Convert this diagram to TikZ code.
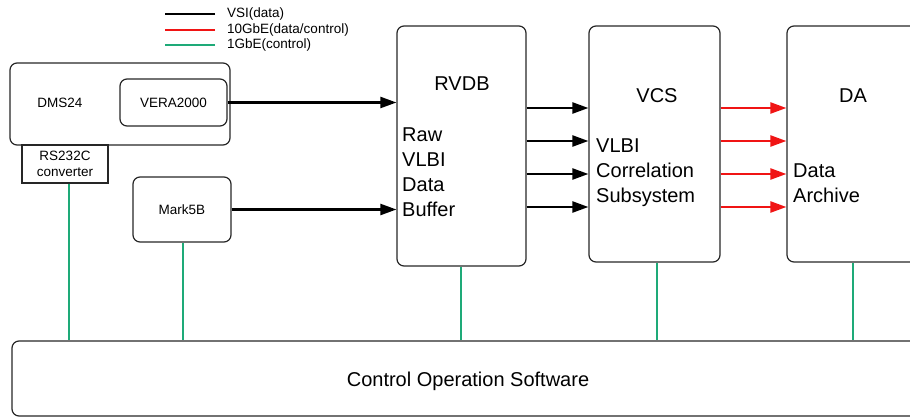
\documentclass[tikz,border=0pt]{standalone}
\usepackage{fontspec}
\setmainfont{Liberation Sans}
\usetikzlibrary{arrows.meta}
\definecolor{ctrlgreen}{RGB}{30,170,120}
\definecolor{tenred}{RGB}{240,20,20}
\begin{document}
\begin{tikzpicture}[x=1pt,y=-1pt,
  box/.style={draw=black!85,line width=1.2pt,rounded corners=7pt,inner sep=0pt},
  plainbox/.style={draw=black!85,line width=1.1pt,inner sep=0pt},
  big/.style={font=\fontsize{20}{25}\selectfont},
  small/.style={font=\fontsize{13.5}{16}\selectfont},
  txt/.style={inner sep=0pt},
  data/.style={line width=2.3pt,-{Triangle[length=16pt,width=11pt]}},
  tenge/.style={line width=2.3pt,color=tenred,-{Triangle[length=16pt,width=11pt]}},
  ctrl/.style={line width=1.3pt,color=ctrlgreen},
  legline/.style={line width=2.6pt}
]
\useasboundingbox (0,0) rectangle (910,417);
\clip (0,0) rectangle (910,417);

% legend
\node[txt,small,anchor=west] (l1) at (227,14) {VSI(data)};
\node[txt,small,anchor=west] (l2) at (227,30) {10GbE(data/control)};
\node[txt,small,anchor=west] (l3) at (227,45) {1GbE(control)};
\draw[legline,black] ([xshift=-12pt]l1.west) -- ++(-50,0);
\draw[legline,tenred] ([xshift=-12pt]l2.west) -- ++(-50,0);
\draw[legline,ctrlgreen] ([xshift=-12pt]l3.west) -- ++(-50,0);

% left side
\node[box,minimum width=220pt,minimum height=82pt] (dms) at (120,104) {};
\node[txt,small] (dmslabel) at (60,103) {DMS24};
\node[box,minimum width=107pt,minimum height=47pt,small] (vera) at (173.5,102.5) {VERA2000};
\node[plainbox,minimum width=86pt,minimum height=38pt,small,align=center] (rs) at (65,164) {RS232C\\converter};
\node[box,minimum width=98pt,minimum height=65pt,small] (mark) at (182,209.5) {Mark5B};

% main boxes
\node[box,minimum width=129pt,minimum height=240pt] (rvdb) at (461.5,146) {};
\node[box,minimum width=131pt,minimum height=236pt] (vcs) at (654.5,144) {};
\node[box,minimum width=132pt,minimum height=236pt] (da) at (853,144) {};
\node[box,minimum width=912pt,minimum height=75pt] (cos) at (468,378.5) {};
\node[txt,big] (cost) at (468,381) {Control Operation Software};

% titles and texts
\node[txt,big,anchor=base] (rvdbt) at (462,91) {RVDB};
\node[txt,big,anchor=north west,align=left] (rvdbb) at (402,127.7) {Raw\\VLBI\\Data\\Buffer};
\node[txt,big,anchor=base] (vcst) at (657,103) {VCS};
\node[txt,big,anchor=north west,align=left] (vcsb) at (596,138.7) {VLBI\\Correlation\\Subsystem};
\node[txt,big,anchor=base] (dat) at (853,103) {DA};
\node[txt,big,anchor=north west,align=left] (dab) at (793,163.7) {Data\\Archive};

% data arrows
\draw[data] (vera.east) -- (vera.east -| rvdb.west);
\draw[data] (mark.east) -- (mark.east -| rvdb.west);
\foreach \yy in {108,141,174,207}{
  \draw[data] (rvdb.east |- 0,\yy) -- (vcs.west |- 0,\yy);
  \draw[tenge] (vcs.east |- 0,\yy) -- (da.west |- 0,\yy);
}

% control lines
\draw[ctrl] ([xshift=4pt]rs.south) -- ([xshift=4pt]rs.south |- cos.north);
\draw[ctrl] ([xshift=1pt]mark.south) -- ([xshift=1pt]mark.south |- cos.north);
\draw[ctrl] ([xshift=-0.5pt]rvdb.south) -- ([xshift=-0.5pt]rvdb.south |- cos.north);
\draw[ctrl] ([xshift=2.5pt]vcs.south) -- ([xshift=2.5pt]vcs.south |- cos.north);
\draw[ctrl] (da.south) -- (da.south |- cos.north);
\end{tikzpicture}
\end{document}
